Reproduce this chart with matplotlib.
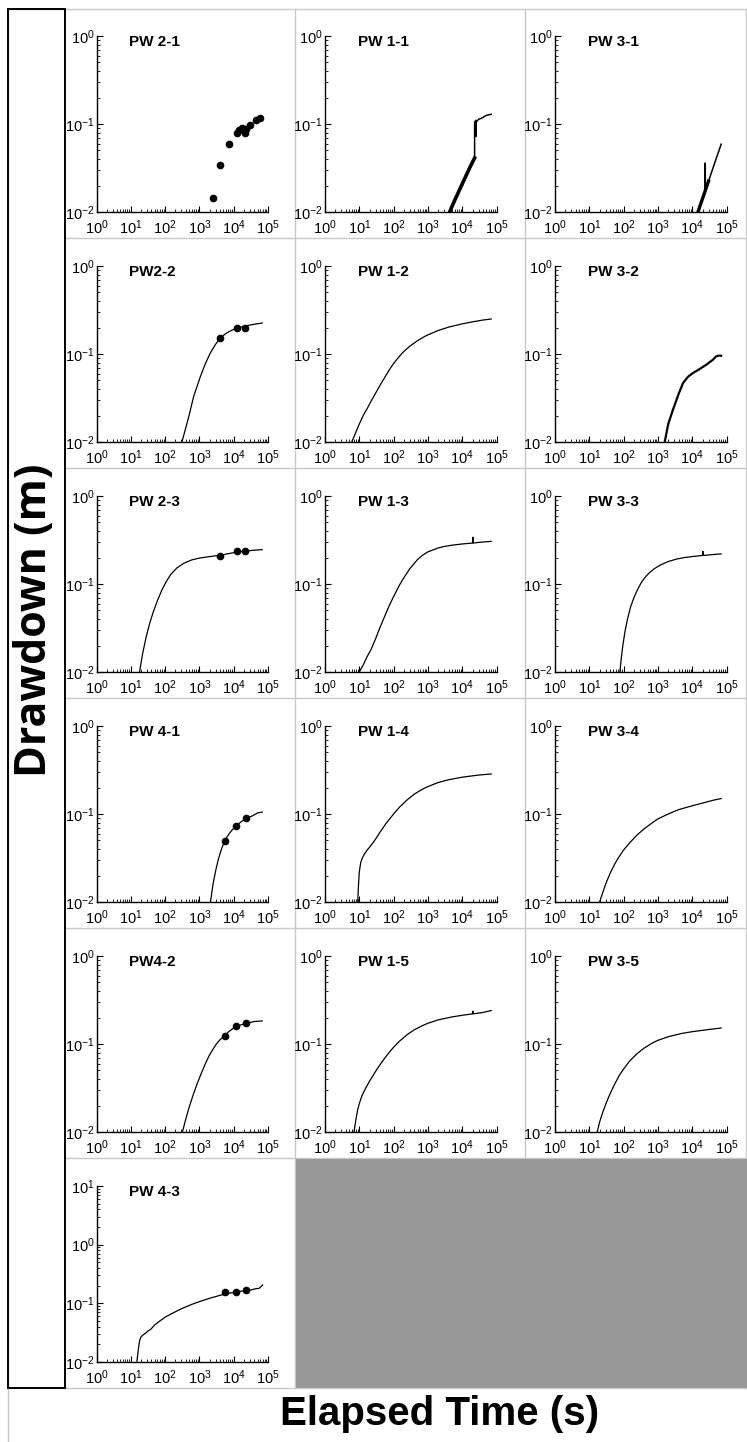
import matplotlib
matplotlib.use("Agg")
import matplotlib.pyplot as plt
from matplotlib.patches import Rectangle
from matplotlib.ticker import LogLocator, LogFormatterSciNotation, NullFormatter

plt.rcParams['font.family'] = ['Liberation Sans', 'DejaVu Sans']
plt.rcParams['mathtext.fontset'] = 'custom'
plt.rcParams['mathtext.rm'] = 'Liberation Sans'
plt.rcParams['mathtext.it'] = 'Liberation Sans:italic'
plt.rcParams['mathtext.bf'] = 'Liberation Sans:bold'

# ---- drawdown records (time in s, drawdown in m) ----
pw21_obs_t = [2570, 3960, 7100, 12400, 14500, 17500, 21700, 23000, 29600, 44700, 58400]
pw21_obs_s = [0.0145, 0.0342, 0.0587, 0.0796, 0.085, 0.090, 0.0784, 0.088, 0.0967, 0.111, 0.117]

pw11_t = [4300, 6000, 9000, 13000, 18000, 23000, 23000, 25000, 25000, 25500, 30000, 36000, 50000, 70000]
pw11_s = [0.010, 0.0135, 0.019, 0.026, 0.034, 0.041, 0.105, 0.110, 0.072, 0.105, 0.113, 0.116, 0.125, 0.129]

pw31_t = [14700, 18000, 22000, 24000, 24000, 24200, 30000, 40000, 55000, 70000]
pw31_s = [0.010, 0.0126, 0.0158, 0.0175, 0.036, 0.0177, 0.0225, 0.0313, 0.045, 0.059]

pw22_t = [310, 400, 500, 680, 1070, 1500, 2090, 3000, 4100, 6000, 9000, 12600, 20000, 35000, 68000]
pw22_s = [0.010, 0.0145, 0.020, 0.033, 0.0556, 0.078, 0.103, 0.130, 0.152, 0.172, 0.187, 0.197, 0.207, 0.216, 0.225]
pw22_obs_t = [4100, 12600, 22000]
pw22_obs_s = [0.152, 0.199, 0.199]

pw12_t = [6, 7, 8, 10, 13, 17, 22, 30, 40, 55, 75, 100, 150, 200, 300, 500, 800, 1000,
          2000, 4000, 10000, 20000, 40000, 70000]
pw12_s = [0.010, 0.0115, 0.013, 0.016, 0.020, 0.024, 0.029, 0.036, 0.044, 0.054, 0.066, 0.078,
          0.095, 0.107, 0.123, 0.142, 0.158, 0.165, 0.185, 0.202, 0.220, 0.232, 0.243, 0.250]

pw32_t = [1580, 2000, 2750, 4000, 5400, 7500, 10500, 15000, 25700, 40000, 50000, 60000, 70000]
pw32_s = [0.010, 0.016, 0.0233, 0.035, 0.0468, 0.055, 0.0608, 0.066, 0.0755, 0.086, 0.094, 0.096, 0.0955]

pw23_t = [18, 22, 28, 35, 45, 60, 80, 110, 150, 220, 350, 600, 1000, 2000, 4000, 10000,
          20000, 40000, 68000]
pw23_s = [0.010, 0.016, 0.025, 0.035, 0.048, 0.065, 0.085, 0.108, 0.130, 0.152, 0.172, 0.188,
          0.197, 0.205, 0.212, 0.227, 0.236, 0.242, 0.246]
pw23_obs_t = [4100, 12900, 22000]
pw23_obs_s = [0.208, 0.237, 0.237]

pw13_t = [10, 13, 17, 22, 30, 40, 55, 75, 100, 150, 200, 300, 500, 700, 1000, 2000, 3000,
          5000, 10000, 20000, 20500, 21000, 30000, 50000, 70000]
pw13_s = [0.010, 0.012, 0.015, 0.018, 0.024, 0.032, 0.043, 0.057, 0.072, 0.098, 0.118, 0.150,
          0.190, 0.212, 0.232, 0.257, 0.267, 0.276, 0.285, 0.292, 0.340, 0.292, 0.297, 0.302, 0.305]

pw33_t = [78, 85, 95, 110, 130, 160, 200, 250, 320, 400, 550, 800, 1200, 2000, 3500, 6000,
          10000, 20000, 20500, 21000, 40000, 70000]
pw33_s = [0.010, 0.014, 0.020, 0.029, 0.040, 0.055, 0.070, 0.085, 0.102, 0.116, 0.133, 0.150,
          0.165, 0.180, 0.192, 0.200, 0.205, 0.211, 0.235, 0.211, 0.216, 0.220]

pw41_t = [2100, 2500, 3000, 3600, 4400, 5400, 7000, 9000, 12000, 16000, 23500, 35000, 50000, 68000]
pw41_s = [0.010, 0.016, 0.023, 0.031, 0.040, 0.049, 0.058, 0.066, 0.073, 0.081, 0.090, 0.095,
          0.103, 0.105]
pw41_obs_t = [5400, 12000, 23500]
pw41_obs_s = [0.049, 0.073, 0.090]

pw14_t = [9, 9.5, 10, 11, 12, 14, 17, 20, 25, 30, 40, 60, 100, 150, 250, 400, 700, 1000,
          2000, 4000, 10000, 30000, 70000]
pw14_s = [0.010, 0.016, 0.022, 0.028, 0.031, 0.035, 0.039, 0.042, 0.047, 0.052, 0.062, 0.078,
          0.100, 0.120, 0.145, 0.168, 0.192, 0.205, 0.228, 0.245, 0.262, 0.277, 0.285]

pw34_t = [20, 25, 30, 40, 55, 75, 100, 150, 250, 400, 700, 1000, 2000, 4000, 10000, 20000,
          40000, 70000]
pw34_s = [0.010, 0.013, 0.016, 0.021, 0.027, 0.033, 0.039, 0.047, 0.058, 0.068, 0.080, 0.088,
          0.100, 0.112, 0.124, 0.133, 0.143, 0.150]

pw42_t = [320, 400, 500, 650, 850, 1100, 1500, 2000, 3000, 4000, 5400, 7000, 10000, 14000,
          23000, 40000, 68000]
pw42_s = [0.010, 0.014, 0.019, 0.026, 0.035, 0.045, 0.060, 0.076, 0.098, 0.112, 0.124, 0.137,
          0.152, 0.162, 0.172, 0.180, 0.183]
pw42_obs_t = [5400, 12000, 23000]
pw42_obs_s = [0.124, 0.160, 0.175]

pw15_t = [7, 8, 9, 10, 12, 15, 20, 30, 45, 70, 100, 150, 250, 400, 700, 1000, 2000, 5000,
          10000, 20000, 20500, 21000, 40000, 70000]
pw15_s = [0.010, 0.014, 0.018, 0.021, 0.026, 0.031, 0.038, 0.049, 0.062, 0.078, 0.092, 0.108,
          0.128, 0.145, 0.162, 0.172, 0.188, 0.203, 0.212, 0.220, 0.236, 0.220, 0.228, 0.240]

pw35_t = [17, 20, 25, 32, 40, 55, 75, 100, 150, 250, 400, 700, 1000, 2000, 5000, 10000,
          20000, 40000, 70000]
pw35_s = [0.010, 0.013, 0.017, 0.022, 0.027, 0.035, 0.044, 0.052, 0.064, 0.078, 0.090, 0.103,
          0.110, 0.121, 0.132, 0.138, 0.143, 0.148, 0.152]

pw43_t = [15, 16.5, 18, 20, 23, 27, 32, 38, 50, 70, 100, 150, 300, 600, 1000, 2000, 4000,
          8000, 15000, 30000, 45000, 55000, 70000]
pw43_s = [0.010, 0.016, 0.023, 0.027, 0.029, 0.031, 0.034, 0.036, 0.043, 0.050, 0.058, 0.066,
          0.081, 0.096, 0.107, 0.122, 0.137, 0.150, 0.160, 0.168, 0.178, 0.180, 0.205]
pw43_obs_t = [5400, 12000, 23500]
pw43_obs_s = [0.155, 0.158, 0.168]

# ---- figure layout (pixel grid) ----
W, H = 747, 1442
fig = plt.figure(figsize=(W / 100, H / 100), dpi=100)
fig.patch.set_facecolor('white')

bg = fig.add_axes([0, 0, 1, 1], zorder=-5)
bg.set_xlim(0, W)
bg.set_ylim(H, 0)
bg.axis('off')

grid_c = '#c9c9c9'
# outer frame and cell separators
bg.plot([8, 746], [9, 9], color=grid_c, lw=1)
bg.plot([8, 8], [9, H], color=grid_c, lw=1)
bg.plot([746, 746], [9, 1388], color=grid_c, lw=1)
for y in [238, 468, 698, 928, 1158, 1388]:
    bg.plot([65, 746], [y, y], color=grid_c, lw=1)
for x in [295, 525]:
    bg.plot([x, x], [9, 1388], color=grid_c, lw=1)
bg.add_patch(Rectangle((295.5, 1158.5), 452, 229, facecolor='#999999',
                       edgecolor='none', zorder=3))
bg.add_patch(Rectangle((8, 9), 57, 1379, facecolor='none', edgecolor='black',
                       lw=1.4, zorder=4))

bg.text(35, 620, 'Drawdown (m)', rotation=90, ha='center', va='center',
        fontsize=31, fontweight='bold', family=['Open Sans', 'DejaVu Sans'])
bg.text(440, 1414, 'Elapsed Time (s)', ha='center', va='center',
        fontsize=29, fontweight='bold')

col_left = [96.5, 325, 555]
ax_w, ax_h = 171.5, 176


def make_axes(row, col, ymax=1.0):
    left = col_left[col]
    top = 36 + 230 * row
    ax = fig.add_axes([left / W, 1 - (top + ax_h) / H, ax_w / W, ax_h / H])
    ax.set_xscale('log')
    ax.set_yscale('log')
    ax.set_xlim(1, 1e5)
    ax.set_ylim(1e-2, ymax)
    ax.set_facecolor('none')
    for s in ['top', 'right']:
        ax.spines[s].set_visible(False)
    for s in ['left', 'bottom']:
        ax.spines[s].set_linewidth(1.0)
    ax.xaxis.set_major_locator(LogLocator(base=10, numticks=10))
    ax.xaxis.set_minor_locator(LogLocator(base=10, subs=range(2, 10), numticks=10))
    ax.yaxis.set_major_locator(LogLocator(base=10, numticks=10))
    ax.yaxis.set_minor_locator(LogLocator(base=10, subs=range(2, 10), numticks=10))
    ax.xaxis.set_major_formatter(LogFormatterSciNotation())
    ax.yaxis.set_major_formatter(LogFormatterSciNotation())
    ax.xaxis.set_minor_formatter(NullFormatter())
    ax.yaxis.set_minor_formatter(NullFormatter())
    ax.tick_params(which='major', direction='in', length=4, width=0.8, labelsize=10.5)
    ax.tick_params(which='minor', direction='in', length=2, width=0.6)
    ax.tick_params(axis='x', which='major', pad=4.5)
    ax.tick_params(axis='y', which='major', pad=1.5)
    return ax


def panel(row, col, title, t, s, obs_t=None, obs_s=None, ymax=1.0, lw=0.9):
    ax = make_axes(row, col, ymax)
    ax.plot(t, s, color='black', lw=lw, clip_on=True)
    if obs_t is not None:
        ax.plot(obs_t, obs_s, 'o', color='black', ms=4.5, clip_on=False)
    ax.text(0.19, 0.968, title, transform=ax.transAxes, ha='left', va='center',
            fontsize=11, fontweight='bold')
    return ax


ax = make_axes(0, 0)
ax.plot(pw21_obs_t, pw21_obs_s, 'o', color='black', ms=4.5)
ax.text(0.19, 0.968, 'PW 2-1', transform=ax.transAxes, ha='left', va='center',
        fontsize=11, fontweight='bold')

ax = panel(0, 1, 'PW 1-1', pw11_t, pw11_s, lw=1.1)
ax.plot(pw11_t[:6], pw11_s[:6], color='black', lw=2.6)
ax = panel(0, 2, 'PW 3-1', pw31_t, pw31_s, lw=1.1)
ax.plot(pw31_t[:4] + pw31_t[6:7], pw31_s[:4] + pw31_s[6:7], color='black', lw=2.4)

panel(1, 0, 'PW2-2', pw22_t, pw22_s, pw22_obs_t, pw22_obs_s)
panel(1, 1, 'PW 1-2', pw12_t, pw12_s)
panel(1, 2, 'PW 3-2', pw32_t, pw32_s, lw=1.6)

panel(2, 0, 'PW 2-3', pw23_t, pw23_s, pw23_obs_t, pw23_obs_s)
panel(2, 1, 'PW 1-3', pw13_t, pw13_s)
panel(2, 2, 'PW 3-3', pw33_t, pw33_s)

panel(3, 0, 'PW 4-1', pw41_t, pw41_s, pw41_obs_t, pw41_obs_s)
panel(3, 1, 'PW 1-4', pw14_t, pw14_s)
panel(3, 2, 'PW 3-4', pw34_t, pw34_s)

panel(4, 0, 'PW4-2', pw42_t, pw42_s, pw42_obs_t, pw42_obs_s)
panel(4, 1, 'PW 1-5', pw15_t, pw15_s)
panel(4, 2, 'PW 3-5', pw35_t, pw35_s)

panel(5, 0, 'PW 4-3', pw43_t, pw43_s, pw43_obs_t, pw43_obs_s, ymax=10.0)

fig.savefig('out.png', dpi=100, facecolor='white')
